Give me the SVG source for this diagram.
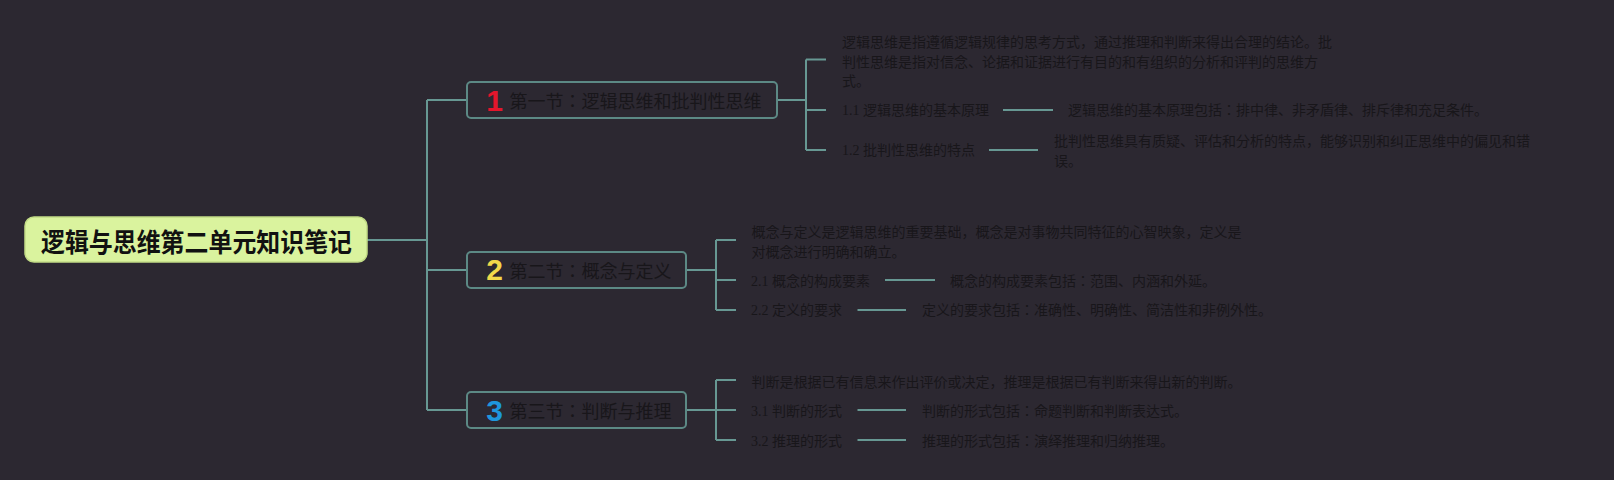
<svg xmlns="http://www.w3.org/2000/svg" width="1614" height="480" viewBox="0 0 1614 480">
  <style>
    .bg { fill: #2c2831; }
    .conn { fill: none; stroke: #679893; stroke-width: 2; }
    .root-box { fill: #daf39e; stroke: #c2dc86; stroke-width: 1.5; }
    .root-text { font-family: "Noto Sans CJK JP", "Noto Sans CJK SC", sans-serif; font-size: 26px; font-weight: 700; fill: #111111; dominant-baseline: central; }
    .sec-box { fill: #2c2831; stroke: #5c8985; stroke-width: 2; }
    .sec-text { font-family: "Noto Sans CJK JP", "Noto Sans CJK SC", sans-serif; font-size: 18px; fill: #18161a; dominant-baseline: central; }
    .num { font-family: "Liberation Sans", "Noto Sans", sans-serif; font-size: 30px; font-weight: 700; text-anchor: middle; }
    .txt { font-family: "Liberation Serif", "Noto Sans CJK JP", "Noto Sans CJK SC", sans-serif; font-size: 14px; fill: #18161a; dominant-baseline: central; }
  </style>
  <rect class="bg" x="0" y="0" width="1614" height="480"/>

  <g id="connectors">
    <path class="conn" d="M367,240 H427 M427,100 V410 M427,100 H467 M427,270 H467 M427,410 H467"/>
    <path class="conn" d="M777,100 H806 M806,59.5 V150 M806,59.5 H826 M806,110 H826 M806,150 H826"/>
    <path class="conn" d="M1003,110 H1053 M989,150 H1038"/>
    <path class="conn" d="M686,270 H716 M716,240 V310 M716,240 H736 M716,280 H736 M716,310 H736"/>
    <path class="conn" d="M885,280 H935 M857.5,310 H906"/>
    <path class="conn" d="M686,410 H716 M716,380 V440 M716,380 H736 M716,410 H736 M716,440 H736"/>
    <path class="conn" d="M857.5,410 H906 M857.5,440 H906"/>
  </g>

  <g id="root">
    <rect class="root-box" x="25" y="217" width="342" height="45" rx="9"/>
    <text class="root-text" x="41" y="240" textLength="311" lengthAdjust="spacingAndGlyphs">逻辑与思维第二单元知识笔记</text>
  </g>

  <g id="section1">
    <rect class="sec-box" x="467" y="82" width="310" height="36" rx="4"/>
    <text class="num" x="494.5" y="111" fill="#e3162c">1</text>
    <text class="sec-text" x="509.5" y="100">第一节：逻辑思维和批判性思维</text>
  </g>
  <g id="s1-desc">
    <text class="txt" x="842" y="42.5">逻辑思维是指遵循逻辑规律的思考方式，通过推理和判断来得出合理的结论。批</text>
    <text class="txt" x="842" y="62">判性思维是指对信念、论据和证据进行有目的和有组织的分析和评判的思维方</text>
    <text class="txt" x="842" y="81.5">式。</text>
  </g>
  <g id="s1-1">
    <text class="txt" x="842" y="110">1.1 逻辑思维的基本原理</text>
  </g>
  <g id="s1-1-desc">
    <text class="txt" x="1068" y="110">逻辑思维的基本原理包括：排中律、非矛盾律、排斥律和充足条件。</text>
  </g>
  <g id="s1-2">
    <text class="txt" x="842" y="150">1.2 批判性思维的特点</text>
  </g>
  <g id="s1-2-desc">
    <text class="txt" x="1054" y="141.7">批判性思维具有质疑、评估和分析的特点，能够识别和纠正思维中的偏见和错</text>
    <text class="txt" x="1054" y="161.7">误。</text>
  </g>

  <g id="section2">
    <rect class="sec-box" x="467" y="252" width="219" height="36" rx="4"/>
    <text class="num" x="494.5" y="280" fill="#f2d84a">2</text>
    <text class="sec-text" x="509.5" y="270">第二节：概念与定义</text>
  </g>
  <g id="s2-desc">
    <text class="txt" x="751.5" y="232.7">概念与定义是逻辑思维的重要基础，概念是对事物共同特征的心智映象，定义是</text>
    <text class="txt" x="751.5" y="252">对概念进行明确和确立。</text>
  </g>
  <g id="s2-1">
    <text class="txt" x="751" y="281">2.1 概念的构成要素</text>
  </g>
  <g id="s2-1-desc">
    <text class="txt" x="950" y="281">概念的构成要素包括：范围、内涵和外延。</text>
  </g>
  <g id="s2-2">
    <text class="txt" x="751" y="310.5">2.2 定义的要求</text>
  </g>
  <g id="s2-2-desc">
    <text class="txt" x="922" y="310.5">定义的要求包括：准确性、明确性、简洁性和非例外性。</text>
  </g>

  <g id="section3">
    <rect class="sec-box" x="467" y="392" width="219" height="36" rx="4"/>
    <text class="num" x="494.5" y="421" fill="#1e96dc">3</text>
    <text class="sec-text" x="509.5" y="410">第三节：判断与推理</text>
  </g>
  <g id="s3-desc">
    <text class="txt" x="751.5" y="382.7">判断是根据已有信息来作出评价或决定，推理是根据已有判断来得出新的判断。</text>
  </g>
  <g id="s3-1">
    <text class="txt" x="751" y="411">3.1 判断的形式</text>
  </g>
  <g id="s3-1-desc">
    <text class="txt" x="922" y="411">判断的形式包括：命题判断和判断表达式。</text>
  </g>
  <g id="s3-2">
    <text class="txt" x="751" y="441">3.2 推理的形式</text>
  </g>
  <g id="s3-2-desc">
    <text class="txt" x="922" y="441">推理的形式包括：演绎推理和归纳推理。</text>
  </g>
</svg>
